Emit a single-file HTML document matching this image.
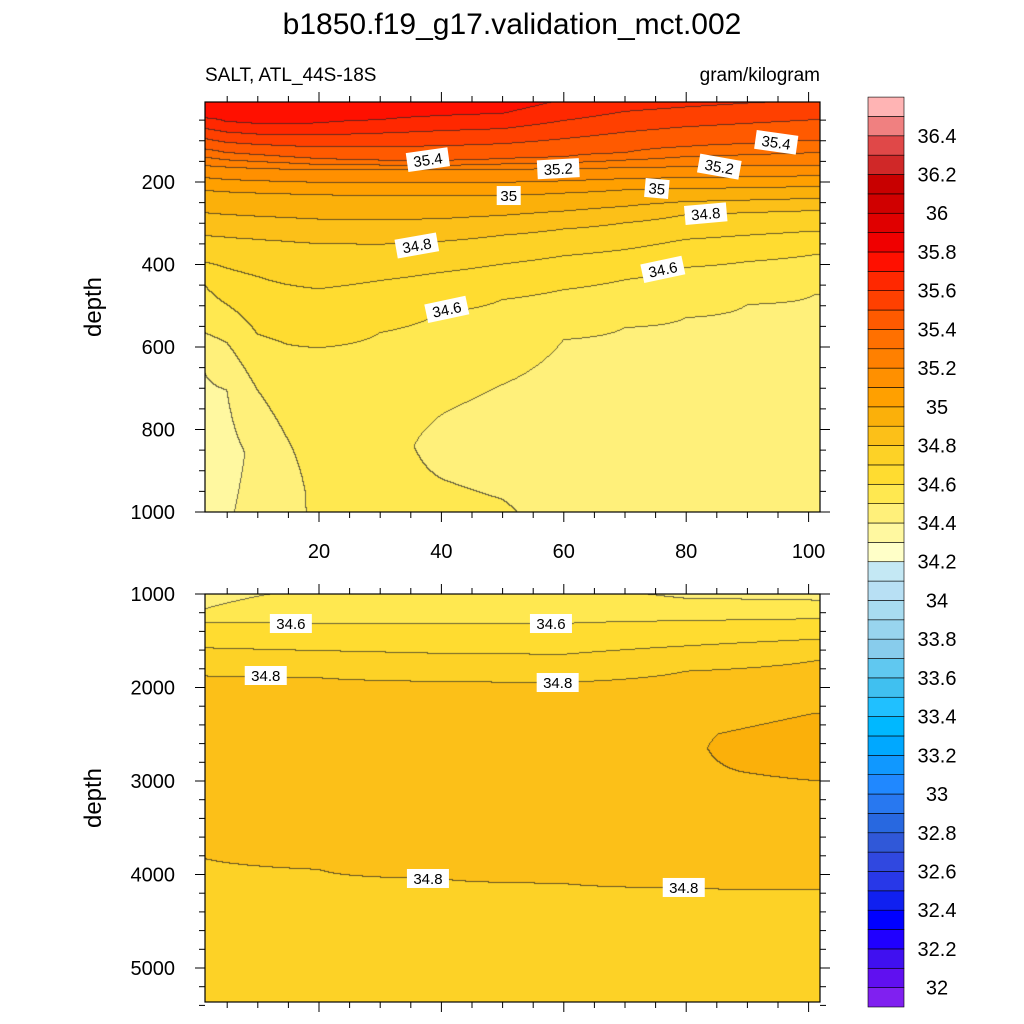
<!DOCTYPE html>
<html><head><meta charset="utf-8">
<style>
body{margin:0;background:#fff;width:1024px;height:1024px;overflow:hidden;font-family:"Liberation Sans",sans-serif;}
#root{position:relative;width:1024px;height:1024px;}
canvas{position:absolute;}
svg{position:absolute;left:0;top:0;}
</style></head><body>
<div id="root">
<canvas id="cTop"></canvas>
<canvas id="cBot"></canvas>
<svg id="svg" width="1024" height="1024"></svg>
</div>
<script>
// ---- data ----
const topLats = [1,5,10,15,20,30,40,50,60,70,80,90,101];
const topProfiles = [
 [[0,35.78],[40,35.72],[70,35.6],[120,35.4],[160,35.2],[220,35.0],[330,34.8],[394,34.7],[445,34.6],[564,34.5],[648,34.4],[850,34.35],[1000,34.37]],
 [[0,35.79],[55,35.7],[130,35.4],[165,35.2],[225,35.0],[335,34.8],[410,34.7],[498,34.6],[590,34.5],[705,34.4],[850,34.37],[1000,34.39]],
 [[0,35.79],[60,35.7],[135,35.4],[168,35.2],[228,35.0],[340,34.8],[430,34.7],[570,34.6],[705,34.5],[860,34.42],[1000,34.43]],
 [[0,35.79],[60,35.7],[140,35.4],[170,35.2],[230,35.0],[345,34.8],[450,34.7],[595,34.6],[826,34.5],[950,34.47],[1000,34.47]],
 [[0,35.79],[58,35.7],[145,35.4],[172,35.2],[232,35.0],[350,34.8],[460,34.7],[603,34.6],[850,34.53],[1000,34.52]],
 [[0,35.78],[50,35.7],[148,35.4],[172,35.2],[234,35.0],[352,34.8],[440,34.7],[566,34.6],[800,34.54],[1000,34.53]],
 [[0,35.77],[40,35.7],[150,35.4],[172,35.2],[235,35.0],[345,34.8],[420,34.7],[518,34.6],[700,34.52],[765,34.5],[840,34.47],[920,34.5],[1000,34.53]],
 [[0,35.76],[35,35.7],[145,35.4],[170,35.2],[234,35.0],[330,34.8],[400,34.7],[486,34.6],[692,34.5],[850,34.45],[970,34.5],[1000,34.51]],
 [[0,35.7],[30,35.65],[140,35.4],[169,35.2],[228,35.0],[315,34.8],[380,34.7],[462,34.6],[583,34.5],[800,34.44],[1000,34.47]],
 [[0,35.66],[130,35.4],[166,35.2],[220,35.0],[300,34.8],[365,34.7],[438,34.6],[554,34.5],[800,34.43],[1000,34.45]],
 [[0,35.64],[115,35.4],[164,35.2],[217,35.0],[280,34.8],[340,34.7],[408,34.6],[530,34.5],[800,34.43],[1000,34.44]],
 [[0,35.62],[108,35.4],[162,35.2],[215,35.0],[275,34.8],[330,34.7],[394,34.6],[498,34.5],[800,34.43],[1000,34.44]],
 [[0,35.6],[100,35.4],[160,35.2],[212,35.0],[270,34.8],[320,34.7],[377,34.6],[474,34.5],[800,34.43],[1000,34.44]]
];
const botLats = [1,20,40,60,80,101];
const botProfiles = [
 [[1000,34.47],[1170,34.5],[1310,34.6],[1580,34.7],[1880,34.8],[2500,34.87],[3000,34.87],[3500,34.84],[3830,34.8],[4500,34.77],[5436,34.76]],
 [[1000,34.52],[1320,34.6],[1610,34.7],[1900,34.8],[2500,34.87],[3000,34.87],[3500,34.85],[3950,34.8],[5436,34.77]],
 [[1000,34.53],[1320,34.6],[1640,34.7],[1940,34.8],[2500,34.87],[3000,34.87],[3500,34.85],[4050,34.8],[5436,34.77]],
 [[1000,34.54],[1320,34.6],[1650,34.7],[1950,34.8],[2500,34.88],[3000,34.87],[3500,34.85],[4100,34.8],[5436,34.77]],
 [[1000,34.48],[1050,34.5],[1290,34.6],[1560,34.7],[1830,34.8],[2500,34.89],[2900,34.89],[3500,34.85],[4150,34.8],[5436,34.77]],
 [[1000,34.47],[1070,34.5],[1270,34.6],[1490,34.7],[1720,34.8],[2280,34.9],[2650,34.95],[3000,34.9],[3500,34.85],[4170,34.8],[5436,34.77]]
];
const topLabels = [["35.4",37.8,147,-8],["35.2",59.1,169,-3],["35",51.0,234,0],["35.4",94.7,105,8],["35.2",85.4,164,10],["35",75.2,217,5],["34.8",83.2,278,-5],["34.8",36.0,355,-10],["34.6",76.2,413,-12],["34.6",40.9,510,-12]];
const botLabels = [["34.6",15.4,1321,0],["34.6",57.9,1321,0],["34.8",11.3,1877,0],["34.8",59.0,1952,0],["34.8",37.8,4048,0],["34.8",79.6,4144,0]];
const palette = ["#8020f0","#6010f0","#4010f0","#2000ff","#0000ff","#1020f0","#2838e8","#3048e0","#3058d8","#2868e0","#2878f0","#2088ff","#1098ff","#00a8ff","#00b8ff","#20c0ff","#40c0f0","#60c8f0","#88ccec","#98d4ee","#a8dcf0","#b8e0f4","#c4e8f4",
"#ffffc8","#fff8a0","#fff07a","#ffe850","#ffdc30","#fdd226","#fcc018","#fbb00a","#ffa000","#ff9000","#ff8000","#ff7000","#ff5a00","#ff4000","#ff2800","#ff1000","#f00000","#e00000","#d00000","#c80000","#d02828","#e04848","#f08080","#ffb4b4"];
const cbTicks = ["32","32.2","32.4","32.6","32.8","33","33.2","33.4","33.6","33.8","34","34.2","34.4","34.6","34.8","35","35.2","35.4","35.6","35.8","36","36.2","36.4"];
const xTickVals = [20,40,60,80,100];
const topYTicks = [200,400,600,800,1000];
const botYTicks = [1000,2000,3000,4000,5000];

// ---- scales ----
const X0=205,X1=820;
const xS = lat => 196.6 + lat*6.12;
const yTop = d => 99.5 + d*0.4125;
const yBot = d => 594 + (d-1000)*0.0935;
const NS="http://www.w3.org/2000/svg";
const svg=document.getElementById('svg');
function mk(tag,attrs,name,parent){const e=document.createElementNS(NS,tag);for(const k in attrs)e.setAttribute(k,attrs[k]);


(parent||svg).appendChild(e);return e;}
function interp1(prof,d){if(d<=prof[0][0])return prof[0][1];for(let i=1;i<prof.length;i++){if(d<=prof[i][0]){const a=prof[i-1],b=prof[i];return a[1]+(b[1]-a[1])*(d-a[0])/(b[0]-a[0]);}}return prof[prof.length-1][1];}
function lvl(v){if(v<32)return 0;return Math.min(46,Math.floor((v-32)/0.1+1e-6)+1);}
function hex(c){return [parseInt(c.substr(1,2),16),parseInt(c.substr(3,2),16),parseInt(c.substr(5,2),16)];}
const pal=palette.map(hex);

function drawPanel(id,lats,profs,y0,y1,dOf){
  const cv=document.getElementById(id);const W=X1-X0,H=y1-y0;
  cv.width=W;cv.height=H;cv.style.left=X0+'px';cv.style.top=y0+'px';
  const ctx=cv.getContext('2d');const img=ctx.createImageData(W,H);
  const L=new Int16Array(W*H);
  for(let j=0;j<H;j++){
    const d=dOf(y0+j+0.5);
    const col=profs.map(p=>interp1(p,d));
    for(let i=0;i<W;i++){
      const lat=(X0+i+0.5-196.6)/6.12;
      let k=0;while(k<lats.length-2&&lat>lats[k+1])k++;
      let t=(lat-lats[k])/(lats[k+1]-lats[k]);t=Math.max(0,Math.min(1,t));
      const v=col[k]+(col[k+1]-col[k])*t;
      L[j*W+i]=lvl(v);
    }
  }
  for(let j=0;j<H;j++)for(let i=0;i<W;i++){
    const l=L[j*W+i];let c=pal[l];
    const edge=(i<W-1&&L[j*W+i+1]!==l)||(j<H-1&&L[(j+1)*W+i]!==l);
    const p=(j*W+i)*4;
    if(edge){const a=0.7;img.data[p]=c[0]*(1-a)+40*a;img.data[p+1]=c[1]*(1-a)+40*a;img.data[p+2]=c[2]*(1-a)+40*a;}
    else{img.data[p]=c[0];img.data[p+1]=c[1];img.data[p+2]=c[2];}
    img.data[p+3]=255;
  }
  ctx.putImageData(img,0,0);
}
drawPanel('cTop',topLats,topProfiles,102,512,y=>(y-99.5)/0.4125);
drawPanel('cBot',botLats,botProfiles,594,1002,y=>1000+(y-594)/0.0935);

// ---- labels on contours ----
function clabel(arr,yf,prefix){arr.forEach(a=>{
  const x=xS(a[1]),y=yf(a[2]);
  const g=mk('g',{transform:`translate(${x},${y}) rotate(${a[3]})`},prefix+'-contour-label');
  const w=a[0].length*9+6;
  mk('rect',{x:-w/2,y:-10,width:w,height:19,fill:'#fff'},'contour-label-box',g);
  const t=mk('text',{x:0,y:5,'text-anchor':'middle','font-size':'15','fill':'#000'},'contour-label-text',g);t.textContent=a[0];
});}
clabel(topLabels,yTop,'top');
clabel(botLabels,yBot,'bottom');

// ---- frames and ticks ----
function frame(y0,y1,name){mk('rect',{x:X0,y:y0,width:X1-X0,height:y1-y0,fill:'none',stroke:'#000','stroke-width':1.2},name);}
frame(102,512,'top-panel-frame');frame(594,1002,'bottom-panel-frame');
function xticks(y0,y1,pfx,labels){
  for(let v=5;v<=100;v+=5){const x=xS(v);const maj=v%20===0;const L=maj?10:6;
    mk('line',{x1:x,x2:x,y1:y0,y2:y0-L,stroke:'#000','stroke-width':1},pfx+'-top-tick');
    mk('line',{x1:x,x2:x,y1:y1,y2:y1+L,stroke:'#000','stroke-width':1},pfx+'-bottom-tick');}
  if(labels)xTickVals.forEach(v=>{const t=mk('text',{x:xS(v),y:y1+46,'text-anchor':'middle','font-size':'20'},'x-tick-label');t.textContent=v;});
}
xticks(102,512,'top',true);xticks(594,1002,'bottom',false);
function yticks(yf,dmin,dmax,minor,majors,pfx){
  for(let d=Math.ceil(dmin/minor)*minor;d<=dmax;d+=minor){const y=yf(d);const maj=majors.includes(d);const L=maj?10:6;
    mk('line',{x1:X0,x2:X0-L,y1:y,y2:y,stroke:'#000','stroke-width':1},pfx+'-left-tick');
    mk('line',{x1:X1,x2:X1+L,y1:y,y2:y,stroke:'#000','stroke-width':1},pfx+'-right-tick');}
  majors.forEach(d=>{const t=mk('text',{x:X0-30,y:yf(d)+7,'text-anchor':'end','font-size':'20'},pfx+'-y-tick-label');t.textContent=d;});
}
yticks(yTop,10,1000,50,topYTicks,'top');
yticks(yBot,1000,5436,200,botYTicks,'bottom');

// ---- titles ----
let t=mk('text',{x:512,y:34,'text-anchor':'middle','font-size':'30'},'chart-title');t.textContent='b1850.f19_g17.validation_mct.002';
t=mk('text',{x:205,y:81,'font-size':'19'},'variable-region-label');t.textContent='SALT, ATL_44S-18S';
t=mk('text',{x:820,y:81,'text-anchor':'end','font-size':'19'},'units-label');t.textContent='gram/kilogram';
t=mk('text',{x:0,y:0,'text-anchor':'middle','font-size':'24',transform:'translate(101,307) rotate(-90)'},'top-y-axis-title');t.textContent='depth';
t=mk('text',{x:0,y:0,'text-anchor':'middle','font-size':'24',transform:'translate(101,798) rotate(-90)'},'bottom-y-axis-title');t.textContent='depth';

// ---- colorbar ----
const cbX=868,cbW=36,cbBot=1007,cbH=19.36;
palette.forEach((c,k)=>{mk('rect',{x:cbX,y:cbBot-(k+1)*cbH,width:cbW,height:cbH,fill:c,stroke:'#000','stroke-width':0.6},'colorbar-box');});
cbTicks.forEach((s,i)=>{const y=cbBot-(1+2*i)*cbH;const tt=mk('text',{x:937,y:y+7,'text-anchor':'middle','font-size':'20'},'colorbar-label');tt.textContent=s;});
</script>
</body></html>
